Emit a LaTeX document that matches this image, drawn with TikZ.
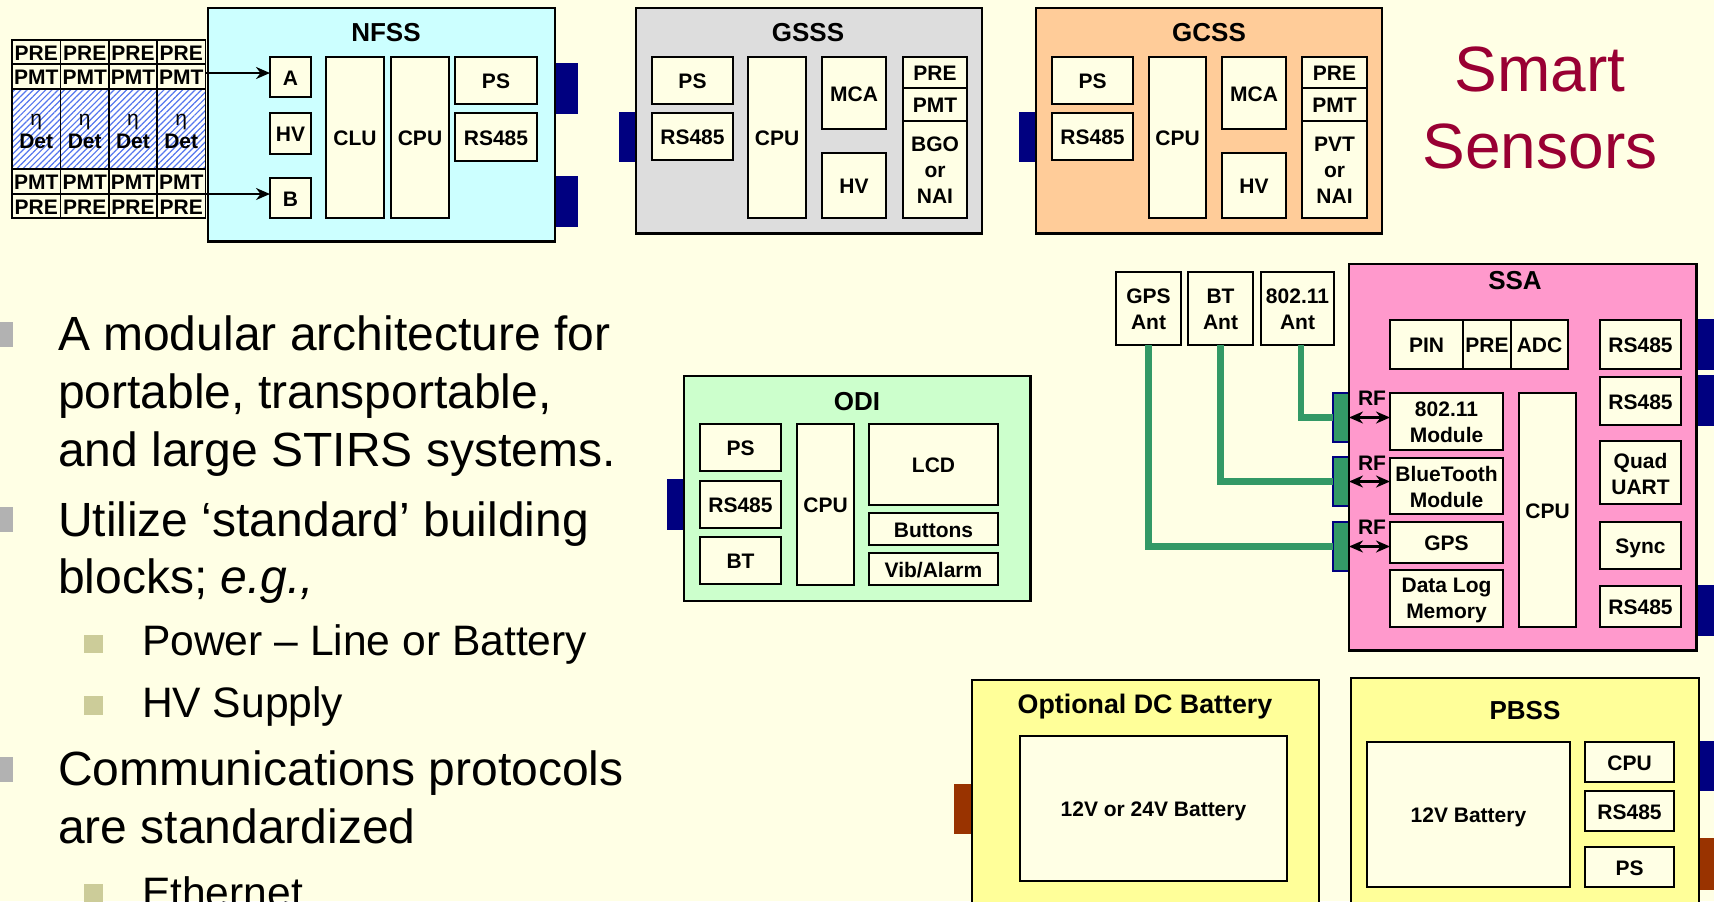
\documentclass[tikz,border=0pt]{standalone}
\usepackage{fontspec}
\setmainfont{Liberation Sans}
\usetikzlibrary{arrows.meta,patterns.meta,calc}
\definecolor{slidebg}{HTML}{FFFFE5}
\definecolor{navyport}{HTML}{000080}
\definecolor{brownport}{HTML}{993300}
\definecolor{greenline}{HTML}{339966}
\definecolor{smartred}{HTML}{990033}
\definecolor{bulA}{HTML}{B2B2B2}
\definecolor{bulB}{HTML}{CCCC99}
\definecolor{hatchblue}{HTML}{5577EE}
\tikzset{
  x=0.5pt,y=-0.5pt,
  box/.style={draw=black,line width=0.85pt,fill=slidebg,inner sep=0pt,outer sep=0pt},
  boxtext/.style={inner sep=0pt,outer sep=0pt,align=center,font=\bfseries\fontsize{10.5}{13}\selectfont},
  outerbox/.style={draw=black,line width=1.25pt,inner sep=0pt,outer sep=0pt},
  port/.style={inner sep=0pt,outer sep=0pt,draw=none},
  navy/.style={port,fill=navyport},
  brown/.style={port,fill=brownport},
  rfport/.style={port,draw=navyport,line width=1pt,fill=greenline},
  hatch/.style={box,preaction={fill=white},pattern={Lines[angle=45,distance=2.2pt,line width=0.6pt]},pattern color=hatchblue},
  title/.style={inner sep=0pt,outer sep=0pt,font=\bfseries\fontsize{13}{15}\selectfont},
  small/.style={inner sep=0pt,outer sep=0pt,font=\bfseries\fontsize{10.5}{13}\selectfont},
  body/.style={anchor=base west,inner sep=0pt,outer sep=0pt,font=\fontsize{24}{28}\selectfont},
  subbody/.style={anchor=base west,inner sep=0pt,outer sep=0pt,font=\fontsize{21.3}{25}\selectfont},
  big/.style={inner sep=0pt,outer sep=0pt,anchor=base,text=smartred,font=\fontsize{32}{36}\selectfont},
  greenwire/.style={draw=greenline,line width=3.2pt},
  arr/.style={draw=black,line width=1pt,-{Stealth[length=7pt,width=6pt]}},
  darr/.style={draw=black,line width=1.1pt,{Stealth[length=7pt,width=6pt]}-{Stealth[length=7pt,width=6pt]}},
}
\def\txtshift{-0.55pt}
% shape only: [style]{name}{x0}{y0}{x1}{y1}
\newcommand\myport[6][port]{%
  \pgfmathsetmacro\bxw{(#5-#3)*0.5}\pgfmathsetmacro\bxh{(#6-#4)*0.5}%
  \node[#1,minimum width=\bxw pt,minimum height=\bxh pt] (#2) at ({(#3+#5)/2},{(#4+#6)/2}) {};}
% shape with text: [style]{name}{x0}{y0}{x1}{y1}{text}
\newcommand\mybox[7][box]{%
  \pgfmathsetmacro\bxw{(#5-#3)*0.5}\pgfmathsetmacro\bxh{(#6-#4)*0.5}%
  \node[#1,minimum width=\bxw pt,minimum height=\bxh pt,
    label={[boxtext,yshift=\txtshift]center:{#7}}] (#2) at ({(#3+#5)/2},{(#4+#6)/2}) {};}
\begin{document}
\begin{tikzpicture}
\clip (0,0) rectangle (1714,901);
\fill[slidebg] (0,0) rectangle (1714,901);

% --- NFSS
\myport[navy]{nfssPa}{554}{63}{578}{114}
\myport[navy]{nfssPb}{554}{176}{578}{227}
\myport[outerbox,fill={rgb,255:red,204;green,255;blue,255}]{nfss}{208}{8}{555}{241.5}
\node[title] (nfssT) at (386,33) {NFSS};
\mybox{nfA}{270}{57}{311}{97}{A}
\mybox{nfHV}{270}{113}{311}{154}{HV}
\mybox{nfB}{270}{178}{311}{218}{B}
\mybox{nfCLU}{326}{57}{384}{218}{CLU}
\mybox{nfCPU}{391}{57}{449}{218}{CPU}
\mybox{nfPS}{455}{57}{537}{104}{PS}
\mybox{nfRS}{455}{113}{537}{161}{RS485}
% detector table
\foreach \i/\xa/\xb in {1/12/60.5,2/60.5/109,3/109/157,4/157/205.5}{
  \mybox{pta\i}{\xa}{40}{\xb}{64}{PRE}
  \mybox{pma\i}{\xa}{64}{\xb}{89}{PMT}
  \def\txtshift{-1.1pt}
  \mybox[hatch]{det\i}{\xa}{89}{\xb}{169}{\mdseries η\\[-1.5pt]Det}
  \def\txtshift{-0.55pt}
  \mybox{pmb\i}{\xa}{169}{\xb}{194}{PMT}
  \mybox{ptb\i}{\xa}{194}{\xb}{218}{PRE}
}
\draw[arr,line width=1.25pt] ([yshift=1.75pt]pma4.east) -- ([yshift=1.75pt]pma4.east -| nfA.west);
\draw[arr] (pmb4.south east) -- (pmb4.south east -| nfB.west);

% --- GSSS
\myport[navy]{gsssP}{619}{112}{637}{162}
\myport[outerbox,fill={rgb,255:red,221;green,221;blue,221}]{gsss}{636}{8}{982}{233.5}
\node[title] (gsssT) at (808,33) {GSSS};
\mybox{gsPS}{652}{57}{733}{104}{PS}
\mybox{gsRS}{652}{113}{733}{160}{RS485}
\mybox{gsCPU}{748}{57}{806}{218}{CPU}
\mybox{gsMCA}{822}{57}{886}{129}{MCA}
\mybox{gsHV}{822}{153}{886}{218}{HV}
\mybox{gsPRE}{903}{57}{967}{88}{PRE}
\mybox{gsPMT}{903}{88}{967}{121}{PMT}
\mybox{gsBGO}{903}{121}{967}{218}{BGO\\or\\NAI}

% --- GCSS
\myport[navy]{gcssP}{1019}{112}{1037}{162}
\myport[outerbox,fill={rgb,255:red,255;green,204;blue,153}]{gcss}{1036}{8}{1382}{233.5}
\node[title] (gcssT) at (1209,33) {GCSS};
\mybox{gcPS}{1052}{57}{1133}{104}{PS}
\mybox{gcRS}{1052}{113}{1133}{160}{RS485}
\mybox{gcCPU}{1149}{57}{1206}{218}{CPU}
\mybox{gcMCA}{1222}{57}{1286}{129}{MCA}
\mybox{gcHV}{1222}{153}{1286}{218}{HV}
\mybox{gcPRE}{1302}{57}{1367}{88}{PRE}
\mybox{gcPMT}{1302}{88}{1367}{121}{PMT}
\mybox{gcPVT}{1302}{121}{1367}{218}{PVT\\or\\NAI}

% --- Smart Sensors
\node[big] (smartA) at (1540,91.5) {Smart};
\node[big] (smartB) at (1540,168) {Sensors};

% --- SSA
\myport[navy]{ssaPa}{1696}{319}{1714}{370}
\myport[navy]{ssaPb}{1696}{375}{1714}{426}
\myport[navy]{ssaPc}{1696}{585}{1714}{636}
\myport[rfport]{rfA}{1333}{393}{1349}{442}
\myport[rfport]{rfB}{1333}{457}{1349}{506}
\myport[rfport]{rfC}{1333}{522}{1349}{571}
\myport[outerbox,fill={rgb,255:red,255;green,153;blue,204}]{ssa}{1349}{264}{1696.5}{650.5}
\node[title] (ssaT) at (1515,281) {SSA};
\mybox{antG}{1116}{272}{1181}{345}{GPS\\Ant}
\mybox{antB}{1188}{272}{1253}{345}{BT\\Ant}
\mybox{antW}{1261}{272}{1334}{345}{802.11\\Ant}
\mybox{ssPIN}{1390}{320}{1463}{369}{PIN}
\mybox{ssPRE}{1463}{320}{1511}{369}{PRE}
\mybox{ssADC}{1511}{320}{1568}{369}{ADC}
\mybox{ssRSa}{1600}{320}{1681}{369}{RS485}
\mybox{ssRSb}{1600}{377}{1681}{425}{RS485}
\mybox{ssQU}{1600}{441}{1681}{504}{Quad\\UART}
\def\txtshift{-1.2pt}
\mybox{ssSy}{1600}{522}{1681}{569}{Sync}
\mybox{ssD}{1390}{570}{1503}{627}{Data Log\\Memory}
\def\txtshift{-0.55pt}
\mybox{ssRSc}{1600}{586}{1681}{627}{RS485}
\mybox{ssW}{1390}{393}{1503}{450}{802.11\\Module}
\mybox{ssB}{1390}{458}{1503}{514}{BlueTooth\\Module}
\mybox{ssG}{1390}{522}{1503}{563}{GPS}
\mybox{ssCPU}{1519}{393}{1576}{627}{CPU}
\node[small] (rfLa) at (1372,398) {RF};
\node[small] (rfLb) at (1372,463) {RF};
\node[small] (rfLc) at (1372,527) {RF};
\draw[greenwire] ([xshift=1.75pt]antW.south) |- (rfA.west);
\draw[greenwire] (antB.south) |- (rfB.west);
\draw[greenwire] (antG.south) |- (rfC.west);
\draw[darr] (rfA.east) -- (rfA.east -| ssW.west);
\draw[darr] (rfB.east) -- (rfB.east -| ssB.west);
\draw[darr] (rfC.east) -- (rfC.east -| ssG.west);

% --- ODI
\myport[navy]{odiP}{667}{479}{685}{530}
\myport[outerbox,fill={rgb,255:red,204;green,255;blue,204}]{odi}{684}{376}{1030.5}{601}
\node[title] (odiT) at (857,402) {ODI};
\mybox{odPS}{700}{424}{781}{471}{PS}
\mybox{odRS}{700}{481}{781}{528}{RS485}
\mybox{odBT}{700}{537}{781}{584}{BT}
\mybox{odCPU}{797}{424}{854}{585}{CPU}
\mybox{odLCD}{869}{424}{998}{505}{LCD}
\mybox{odBut}{869}{513}{998}{545}{Buttons}
\mybox{odVib}{869}{553}{998}{585}{Vib/Alarm}

% --- Optional DC Battery
\myport[brown]{optP}{954}{784}{973}{834}
\myport[outerbox,fill={rgb,255:red,255;green,255;blue,153}]{opt}{972}{680}{1319}{930}
\node[title,font=\bfseries\fontsize{13.4}{15}\selectfont] (optT) at (1145,707) {Optional DC Battery};
\def\txtshift{-1.6pt}
\mybox{optB}{1020}{736}{1287}{881}{12V or 24V Battery}
\def\txtshift{-0.55pt}

% --- PBSS
\myport[navy]{pbPa}{1698}{741}{1714}{791}
\myport[brown]{pbPb}{1698}{838}{1714}{890}
\myport[outerbox,fill={rgb,255:red,255;green,255;blue,153}]{pbss}{1351}{678}{1699}{930}
\node[title] (pbT) at (1525,711) {PBSS};
\def\txtshift{-1.6pt}
\mybox{pbB}{1367}{742}{1570}{887}{12V Battery}
\def\txtshift{-0.55pt}
\mybox{pbC}{1585}{742}{1674}{782}{CPU}
\mybox{pbR}{1585}{791}{1674}{831}{RS485}
\mybox{pbS}{1585}{847}{1674}{887}{PS}

% --- Bulleted text
\node[body] (t1) at (58,350) {A modular architecture for};
\node[body] (t2) at (58,408.5) {portable, transportable,};
\node[body] (t3) at (58,466) {and large STIRS systems.};
\node[body] (t4) at (58,536) {Utilize ‘standard’ building};
\node[body] (t5) at (58,593) {blocks; \textit{e.g.,}};
\node[subbody] (t6) at (142,655.5) {Power – Line or Battery};
\node[subbody] (t7) at (142,717) {HV Supply};
\node[body] (t8) at (58,785) {Communications protocols};
\node[body] (t9) at (58,843.5) {are standardized};
\node[subbody] (t10) at (142,907) {Ethernet};
\myport[port,fill=bulA]{ba}{0}{322}{13}{347}
\myport[port,fill=bulA]{bb}{0}{507}{13}{532}
\myport[port,fill=bulA]{bc}{0}{757}{13}{782}
\myport[port,fill=bulB]{bd}{84}{635}{103}{653}
\myport[port,fill=bulB]{be}{84}{696}{103}{715}
\myport[port,fill=bulB]{bf}{84}{884}{103}{903}
\end{tikzpicture}
\end{document}
